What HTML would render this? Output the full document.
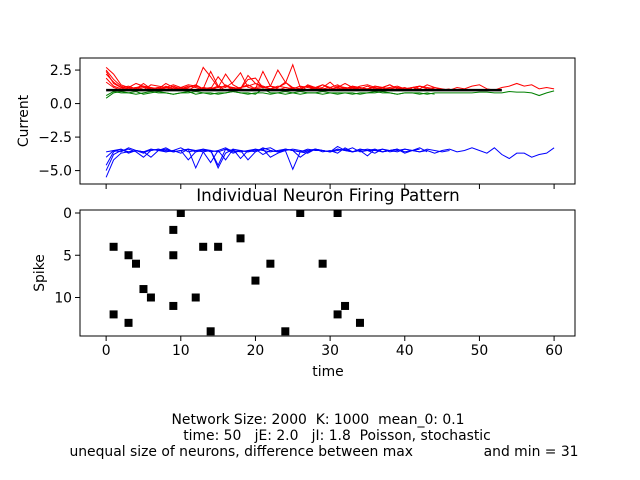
<!DOCTYPE html>
<html><head><meta charset="utf-8"><style>
body{margin:0;background:#fff}
svg{display:block;font-family:"DejaVu Sans","Liberation Sans",sans-serif}
</style></head><body>
<svg id="fig" width="640" height="480" viewBox="0 0 640 480" xmlns="http://www.w3.org/2000/svg">
<defs>
<clipPath id="clipTop"><rect x="80" y="58" width="495" height="126"/></clipPath>
<clipPath id="clipBot"><rect x="80" y="210" width="495" height="126"/></clipPath>
</defs>
<rect width="640" height="480" fill="#fff"/>
<g id="topAx"></g>
<g id="botAx"></g>
<text x="328" y="201" text-anchor="middle" font-size="16.7">Individual Neuron Firing Pattern</text>
<text x="328" y="376" text-anchor="middle" font-size="13.9">time</text>
<text transform="translate(28,121) rotate(-90)" text-anchor="middle" font-size="13.9">Current</text>
<text transform="translate(44,273) rotate(-90)" text-anchor="middle" font-size="13.9">Spike</text>
<g font-size="13.9" text-anchor="middle">
<text xml:space="preserve" x="318" y="424">Network Size: 2000  K: 1000  mean_0: 0.1</text>
<text xml:space="preserve" x="337" y="440">time: 50   jE: 2.0   jI: 1.8  Poisson, stochastic</text>
<text xml:space="preserve" x="324" y="456">unequal size of neurons, difference between max                and min = 31</text>
</g>
</svg>
<script>
const NS="http://www.w3.org/2000/svg";
const redSeries=[
[2.7,2.2,1.4,1.2,1.1,1.3,1.2,1.1,1.5,1.2,1.1,1.3,1.2,1.0,1.1,1.2,1.3,1.1,1.2,1.4,1.1,1.2,1.3,1.1,1.0,1.2,1.1,1.3,1.2,1.1,1.2,1.4,1.1,1.2,1.0,1.1,1.3,1.2,1.1,1.2,1.1,1.2,1.3,1.1,1.2,1.1,1.0,1.2,1.1,1.3,1.4,1.1,1.0,1.2,1.3,1.5,1.3,1.4,1.1,1.2,1.1],
[2.5,1.8,1.3,1.1,1.2,1.0,1.4,1.3,1.2,1.1,1.2,1.0,1.3,2.7,2.0,1.2,2.2,1.4,1.1,2.1,1.5,1.2,1.3,2.5,1.6,1.2,1.1,1.3,1.2,1.4,1.1,1.2,1.5,1.2,1.1,1.3,1.1,1.2,1.4,1.1,1.2,1.0,1.3,1.2,1.1],
[2.2,1.6,1.2,1.3,1.1,1.5,1.1,1.2,1.0,1.3,1.1,1.2,1.4,1.1,2.4,1.3,1.2,1.6,2.3,1.2,1.1,2.4,1.3,1.2,1.5,2.9,1.2,1.3,1.1,1.2,1.6,1.1,1.2,1.1,1.3,1.4,1.2,1.1,1.2,1.3,1.1,1.2,1.1,1.4,1.2,1.0,1.1],
[1.9,1.3,1.1,1.2,1.5,1.3,1.0,1.1,1.2,1.4,1.2,1.1,1.0,1.2,1.1,2.0,1.3,1.2,1.1,1.8,1.9,1.2,1.1,1.3,1.2,1.1,1.0,1.4,1.2,1.1,1.0,1.3,1.2,1.1,1.2,1.0,1.3,1.2,1.4,1.1,1.0,1.2,1.3,1.1],
[1.6,1.2,1.0,1.1,1.0,1.2,1.1,1.0,1.3,1.1,1.2,1.1,1.0,1.2,1.1,1.3,1.0,1.2,1.1,1.0,1.2,1.3,1.1,1.0,1.2,1.1,1.3,1.0,1.2,1.1,1.0,1.2,1.1,1.3,1.0,1.1,1.2,1.0,1.1,1.2,1.0,1.1],
[2.4,1.5,1.2,1.1,1.2,1.3,1.1,1.2,1.1,1.0,1.2,1.4,1.3,1.1,1.2,1.0,1.4,1.1,1.2,1.3,1.5,1.3,1.1,1.2,1.6,1.1,1.3,1.2,1.1,1.4,1.2,1.0,1.1,1.3,1.2,1.1,1.0,1.2,1.1]
];
const greenSeries=[
[0.4,0.8,0.9,0.8,0.7,0.8,0.9,0.8,0.8,0.7,0.8,0.8,0.9,0.8,0.7,0.8,0.8,0.9,0.8,0.8,0.7,1.1,0.8,0.8,0.7,0.8,0.9,0.8,0.8,0.7,0.8,0.8,0.8,0.7,0.8,0.8,0.9,0.8,0.8,0.7,0.8,0.8,0.8,0.7,0.8,0.8,0.8,0.8,0.8,0.8,0.85,0.85,0.8,0.8,0.9,0.85,0.85,0.8,0.6,0.8,0.95],
[0.6,0.9,0.8,0.8,0.9,0.7,0.8,0.9,0.8,0.7,0.8,0.9,0.7,0.8,0.8,0.7,0.8,0.9,0.8,0.7,0.8,0.8,0.7,0.8,0.9,0.8,0.7,0.8,0.8,0.9,0.8,0.7,0.8,0.8,0.7,0.8,0.8,0.9,0.8,0.7,0.8,0.8,0.7,0.8,0.7]
];
const blueSeries=[
[-5.5,-4.2,-3.7,-3.6,-3.5,-3.6,-3.5,-3.4,-3.5,-3.6,-3.5,-3.4,-3.6,-3.5,-3.5,-3.6,-3.4,-3.5,-3.6,-3.5,-3.4,-3.5,-3.6,-3.5,-3.4,-3.5,-3.6,-3.4,-3.5,-3.5,-3.6,-3.4,-3.5,-3.6,-3.4,-3.5,-3.5,-3.4,-3.6,-3.5,-3.4,-3.5,-3.6,-3.5,-3.7,-3.5,-3.4,-3.6,-3.5,-3.3,-3.5,-3.7,-3.3,-3.8,-4.1,-3.7,-3.7,-4.0,-3.8,-3.7,-3.3],
[-5.0,-3.8,-3.5,-3.4,-3.6,-4.0,-3.5,-3.4,-3.6,-3.5,-3.7,-3.4,-4.8,-3.6,-3.5,-4.6,-3.4,-3.7,-3.5,-4.2,-3.6,-3.4,-4.0,-3.7,-3.5,-4.9,-3.6,-3.5,-3.4,-3.6,-3.5,-3.7,-3.3,-3.6,-3.5,-3.9,-3.4,-3.6,-3.5,-3.4,-3.7,-3.5,-3.6,-3.4,-3.5,-3.6,-3.5],
[-4.6,-3.6,-3.4,-3.7,-3.5,-3.6,-3.4,-3.5,-3.3,-3.6,-3.5,-4.2,-3.6,-3.4,-3.5,-4.8,-3.7,-3.4,-4.1,-3.5,-3.6,-3.3,-3.5,-3.6,-3.4,-3.5,-4.0,-3.6,-3.4,-3.5,-3.6,-3.2,-3.5,-3.6,-3.4,-3.5,-3.7,-3.4,-3.5,-3.6,-3.4,-3.5,-3.3,-3.6],
[-4.0,-3.5,-3.6,-3.3,-3.5,-3.6,-4.0,-3.5,-3.4,-3.6,-3.5,-3.4,-3.5,-3.6,-4.4,-3.5,-3.3,-3.6,-3.5,-3.6,-3.4,-3.8,-3.5,-3.6,-3.4,-3.5,-3.6,-3.7,-3.4,-3.5,-3.6,-3.4,-3.5,-3.3,-3.6,-3.5,-3.4,-3.6,-3.5,-3.4,-3.6,-3.5,-3.4],
[-3.6,-3.5,-3.4,-3.6,-3.5,-3.7,-3.4,-3.5,-3.6,-3.5,-3.3,-3.6,-3.5,-3.4,-3.6,-3.5,-4.2,-3.4,-3.5,-3.6,-3.5,-3.4,-3.3,-3.6,-3.5,-3.4,-3.5,-3.6,-3.4,-3.5,-3.6,-3.5,-3.4,-3.6,-3.5,-3.4,-3.5,-3.6,-3.5,-3.4]
];
const meanLineX=[0,53];
const meanLineY=[1.0,1.0];
const spikeTimes=[1,1,3,3,4,5,6,9,9,9,10,12,13,14,15,18,20,22,24,26,29,31,31,32,34];
const spikeIds=[4,12,5,13,6,9,10,2,5,11,0,10,4,14,4,3,8,6,14,0,6,0,12,11,13];
const xTicks=[0,10,20,30,40,50,60];
const topYTicks=[2.5,0,-2.5,-5];
const topYLabels=["2.5","0.0","\u22122.5","\u22125.0"];
const botYTicks=[0,5,10];

(function(){
const L=80,R=575;
const xs=v=>L+(v+3.5)/(66.3)*(R-L);
const ty=v=>58+(3.4-v)/(9.4)*126;
const by=v=>213+v*8.45;

const topG=document.getElementById('topAx'), botG=document.getElementById('botAx');
function mk(tag,attrs,parent){const e=document.createElementNS(NS,tag);for(const k in attrs)e.setAttribute(k,attrs[k]);parent.appendChild(e);return e;}

const topPlot=mk('g',{'clip-path':'url(#clipTop)'},topG);
function series(arr,color,name){
  arr.forEach((s,i)=>{
    const p=mk('polyline',{points:s.map((v,t)=>xs(t)+','+ty(v)).join(' '),fill:'none',stroke:color,'stroke-width':1},topPlot);
    
    
  });
}
series(greenSeries,'#008000','green-current');
series(redSeries,'#ff0000','red-current');
series(blueSeries,'#0000ff','blue-current');
const ml=mk('polyline',{points:meanLineX.map((x,i)=>xs(x)+','+ty(meanLineY[i])).join(' '),fill:'none',stroke:'#000','stroke-width':2.5},topPlot);



const botPlot=mk('g',{'clip-path':'url(#clipBot)'},botG);
spikeTimes.forEach((t,i)=>{
  const r=mk('rect',{x:xs(t)-4,y:by(spikeIds[i])-4,width:8,height:8,fill:'#000'},botPlot);
  
  
});

[[topG,58],[botG,210]].forEach(([g,y0],k)=>{
  const f=mk('rect',{x:L,y:y0,width:R-L,height:126,fill:'none',stroke:'#000','stroke-width':1},g);
  
  
  xTicks.forEach(v=>{
    mk('line',{x1:xs(v),x2:xs(v),y1:y0+126,y2:y0+131,stroke:'#000'},g);
    if(k){const tx=mk('text',{x:xs(v),y:y0+145,'text-anchor':'middle','font-size':13.9},g);tx.textContent=v;
      
      }
  });
});
topYTicks.forEach((v,i)=>{
  mk('line',{x1:L-5,x2:L,y1:ty(v),y2:ty(v),stroke:'#000'},topG);
  const tx=mk('text',{x:L-8,y:ty(v)+5,'text-anchor':'end','font-size':13.9},topG);tx.textContent=topYLabels[i];
  
  
});
botYTicks.forEach(v=>{
  mk('line',{x1:L-5,x2:L,y1:by(v),y2:by(v),stroke:'#000'},botG);
  const tx=mk('text',{x:L-8,y:by(v)+5,'text-anchor':'end','font-size':13.9},botG);tx.textContent=v;
  
  
});
})();
</script>
</body></html>
